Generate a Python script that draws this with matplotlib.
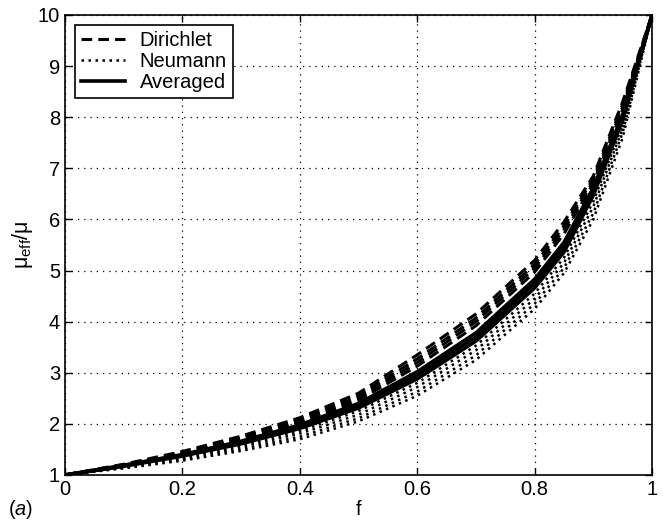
import matplotlib
matplotlib.use('Agg')
import matplotlib.pyplot as plt

plt.rcParams['font.family'] = ['Liberation Sans', 'DejaVu Sans']
plt.rcParams['mathtext.fontset'] = 'custom'
plt.rcParams['mathtext.rm'] = 'Liberation Sans'
plt.rcParams['mathtext.it'] = 'Liberation Sans:italic'

# volume fraction
f = [0, 0.1, 0.2, 0.3, 0.4, 0.5, 0.6, 0.7, 0.8, 0.85, 0.9, 0.95, 1.0]

# Dirichlet (dashed)
dirichlet = [
    [1, 1.21, 1.46, 1.76, 2.12, 2.60, 3.35, 4.15, 5.20, 5.95, 6.85, 8.30, 10],
    [1, 1.20, 1.44, 1.73, 2.08, 2.55, 3.27, 4.07, 5.12, 5.87, 6.80, 8.25, 10],
    [1, 1.20, 1.43, 1.71, 2.05, 2.50, 3.20, 4.00, 5.05, 5.80, 6.75, 8.20, 10],
    [1, 1.19, 1.42, 1.69, 2.02, 2.46, 3.13, 3.92, 4.97, 5.72, 6.70, 8.15, 10],
]
# Neumann (dotted)
neumann = [
    [1, 1.16, 1.35, 1.58, 1.86, 2.25, 2.80, 3.53, 4.55, 5.25, 6.35, 7.85, 10],
    [1, 1.15, 1.33, 1.55, 1.81, 2.18, 2.72, 3.44, 4.45, 5.15, 6.25, 7.78, 10],
    [1, 1.14, 1.30, 1.51, 1.75, 2.11, 2.63, 3.34, 4.35, 5.05, 6.12, 7.70, 10],
    [1, 1.13, 1.28, 1.47, 1.70, 2.05, 2.55, 3.25, 4.25, 4.95, 6.00, 7.60, 10],
]
# Averaged (solid)
averaged = [
    [1, 1.19, 1.40, 1.66, 1.98, 2.40, 3.02, 3.78, 4.83, 5.55, 6.62, 8.05, 10],
    [1, 1.18, 1.39, 1.64, 1.95, 2.36, 2.95, 3.70, 4.75, 5.45, 6.55, 8.00, 10],
    [1, 1.17, 1.37, 1.61, 1.91, 2.31, 2.88, 3.62, 4.66, 5.36, 6.47, 7.95, 10],
]

fs = 14.5

fig = plt.figure(figsize=(6.65, 5.31), dpi=100)
ax = fig.add_axes([0.0977, 0.1055, 0.8828, 0.8663])

for i, y in enumerate(dirichlet):
    ax.plot(f, y, color='black', lw=2.2, ls=(0, (3.5, 2)),
            label='Dirichlet' if i == 0 else None)
for i, y in enumerate(neumann):
    ax.plot(f, y, color='black', lw=1.8, ls=(0, (1, 1.8)),
            label='Neumann' if i == 0 else None)
for i, y in enumerate(averaged):
    ax.plot(f, y, color='black', lw=2.6, ls='-',
            label='Averaged' if i == 0 else None)

ax.set_xlim(0, 1)
ax.set_ylim(1, 10)
ax.set_xticks([0, 0.2, 0.4, 0.6, 0.8, 1])
ax.set_xticklabels(['0', '0.2', '0.4', '0.6', '0.8', '1'])
ax.set_yticks(range(1, 11))
ax.tick_params(direction='in', top=True, right=True, labelsize=fs, length=5, width=1)
ax.grid(True, color='black', ls=(0, (1, 4)), lw=0.9)
for s in ax.spines.values():
    s.set_linewidth(1.2)

ax.set_xlabel('f', fontsize=fs, labelpad=1)
ax.set_ylabel('μ$_{\\mathrm{eff}}$/μ', fontsize=fs + 1, labelpad=2)

leg = ax.legend(loc='upper left', fontsize=fs, fancybox=False, framealpha=1,
                edgecolor='black', handlelength=2.2, borderpad=0.3,
                labelspacing=0.1, handletextpad=0.7, borderaxespad=0.5)
leg.get_frame().set_linewidth(1.2)

fig.text(0.012, 0.03, '($\\mathit{a}$)', fontsize=fs)

fig.savefig('out.png', dpi=100)
